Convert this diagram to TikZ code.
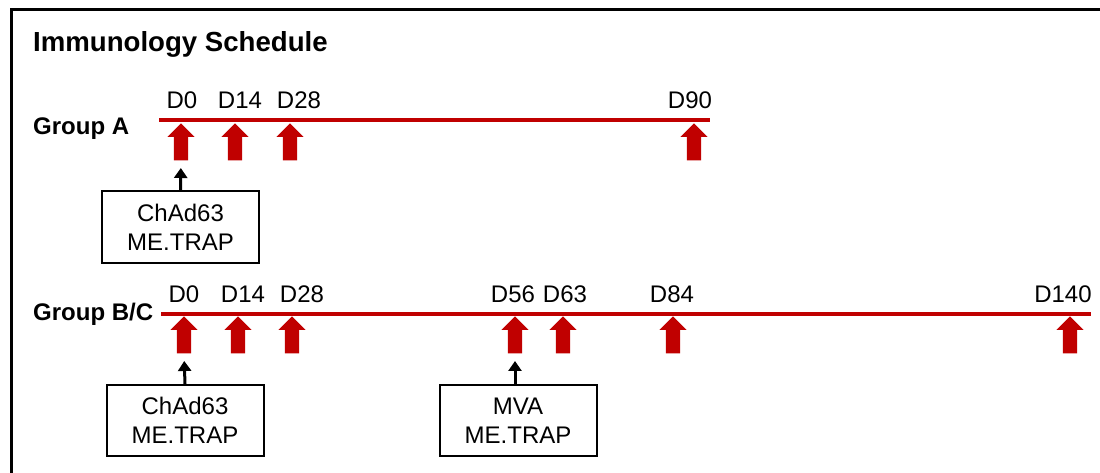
\documentclass[tikz,border=0pt]{standalone}
\usepackage{fontspec}
\setmainfont{Liberation Sans}
\usetikzlibrary{shapes.arrows,arrows.meta}
\definecolor{dosered}{RGB}{192,0,0}
\begin{document}
\begin{tikzpicture}
		[x=1pt, y=-1pt,
		timeline/.style={draw=dosered, line width=4pt},
		dose/.style={
			single arrow,
			fill=dosered,
			draw=none,
			rotate=90,
			anchor=tip,
			inner xsep=0pt,
			inner ysep=7pt,
			minimum height=37pt,
			single arrow head extend=6.5pt,
			single arrow head indent=0pt
		},
		day/.style={anchor=base, inner sep=0pt, font=\fontsize{24}{29}\selectfont},
		group/.style={anchor=base west, inner sep=0pt, font=\fontsize{24}{29}\selectfont\bfseries},
		vaccine/.style={rectangle, draw, line width=2pt, minimum width=157pt, minimum height=71pt, align=center, font=\fontsize{24}{29}\selectfont},
		feed/.style={line width=3pt, -{Triangle[width=13pt,length=10pt]}, shorten >=7.5pt}]
		\useasboundingbox (0,0) rectangle (1100,473);
		\draw[line width=3pt] (11,475) -- (11,9.5) -- (1100,9.5);
		\node[group, font=\fontsize{27.6}{32}\selectfont\bfseries] (title) at (33,51.7) {Immunology Schedule};
		% Group A
		\node[group] (groupA) at (33,135) {Group A};
		\coordinate (startA) at (159,120.5);
		\coordinate (endA) at (710,120.5);
		\draw[timeline] (startA) -- (endA);
		\node[day] (lA0) at (182,109) {D0};
		\node[day] (lA14) at (240,109) {D14};
		\node[day] (lA28) at (299,109) {D28};
		\node[day] (lA90) at (690,109) {D90};
		\node[dose] (a0) at (181,123) {};
		\node[dose] (a14) at (235,123) {};
		\node[dose] (a28) at (290,123) {};
		\node[dose] (a90) at (694,123) {};
		\node[vaccine] (primeA) at (180.5,227) {ChAd63\\ME.TRAP};
		\draw[feed] (primeA.north) -- (a0.tail);
		% Group B/C
		\node[group] (groupBC) at (33,320) {Group B/C};
		\coordinate (startBC) at (161,313.5);
		\coordinate (endBC) at (1090.5,313.5);
		\draw[timeline] (startBC) -- (endBC);
		\node[day] (lB0) at (184,302) {D0};
		\node[day] (lB14) at (243,302) {D14};
		\node[day] (lB28) at (302,302) {D28};
		\node[day] (lB56) at (513,302) {D56};
		\node[day] (lB63) at (565,302) {D63};
		\node[day] (lB84) at (672,302) {D84};
		\node[day] (lB140) at (1063,302) {D140};
		\node[dose] (b0) at (184,316) {};
		\node[dose] (b14) at (238,316) {};
		\node[dose] (b28) at (292,316) {};
		\node[dose] (b56) at (515,316) {};
		\node[dose] (b63) at (563,316) {};
		\node[dose] (b84) at (673,316) {};
		\node[dose] (b140) at (1070,316) {};
		\node[vaccine] (primeBC) at (185,420.5) {ChAd63\\ME.TRAP};
		\node[vaccine] (boostBC) at (518,420.5) {MVA\\ME.TRAP};
		\draw[feed] (primeBC.north) -- (b0.tail);
		\draw[feed] (b56.tail |- boostBC.north) -- (b56.tail);
	\end{tikzpicture}
\end{document}
